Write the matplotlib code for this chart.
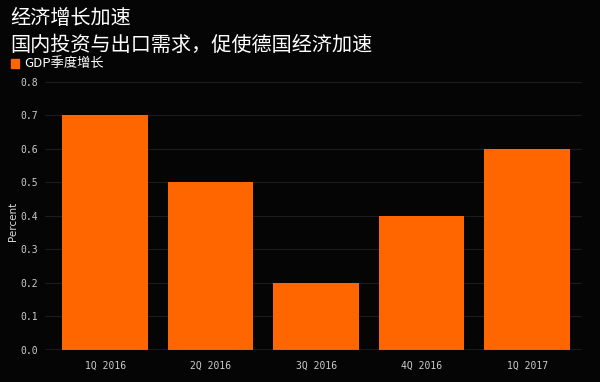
from matplotlib import pyplot as plt
from matplotlib.patches import Rectangle

plt.rcParams['font.family'] = ['Noto Sans CJK SC', 'DejaVu Sans']

quarters = ['1Q 2016', '2Q 2016', '3Q 2016', '4Q 2016', '1Q 2017']
growth = [0.7, 0.5, 0.2, 0.4, 0.6]
yticks = [0.0, 0.1, 0.2, 0.3, 0.4, 0.5, 0.6, 0.7, 0.8]

bg = '#050505'
orange = '#ff6600'

fig = plt.figure(figsize=(6, 3.82), dpi=100, facecolor=bg)
ax = fig.add_axes([0.075, 0.084, 0.895, 0.72], facecolor=bg)

x = range(len(quarters))
ax.bar(x, growth, width=0.81, color=orange, zorder=3)

ax.set_xlim(-0.57, 4.52)
ax.set_ylim(0, 0.82)
ax.set_yticks(yticks)
ax.set_yticklabels(['%.1f' % v for v in yticks], family='DejaVu Sans Mono',
                   fontsize=7, color='#cccccc')
ax.set_xticks(list(x))
ax.set_xticklabels(quarters, family='DejaVu Sans Mono', fontsize=7,
                   color='#cccccc')
ax.tick_params(axis='y', length=0, pad=5)
ax.tick_params(axis='x', length=0, pad=8)
ax.yaxis.grid(True, color='#1c1c1c', linewidth=0.8, zorder=0)
for s in ax.spines.values():
    s.set_visible(False)
ax.axhline(0, color='#6a6a6a', linewidth=1, zorder=4)
fig.text(0.021, 0.42, 'Percent', fontsize=7.5, color='#d8d8d8',
         family='DejaVu Sans', rotation=90, ha='center', va='center')

# Titles and legend
fig.text(0.017, 0.952, '经济增长加速', fontsize=14.5, color='white', va='center')
fig.text(0.017, 0.880, '国内投资与出口需求，促使德国经济加速', fontsize=14.5,
         color='white', va='center')
fig.patches.append(Rectangle((0.018, 0.822), 0.014, 0.024, color=orange,
                             transform=fig.transFigure, figure=fig))
fig.text(0.040, 0.834, 'GDP季度增长', fontsize=9.5, color='white', va='center')

plt.savefig('out.png', dpi=100, facecolor=bg)
